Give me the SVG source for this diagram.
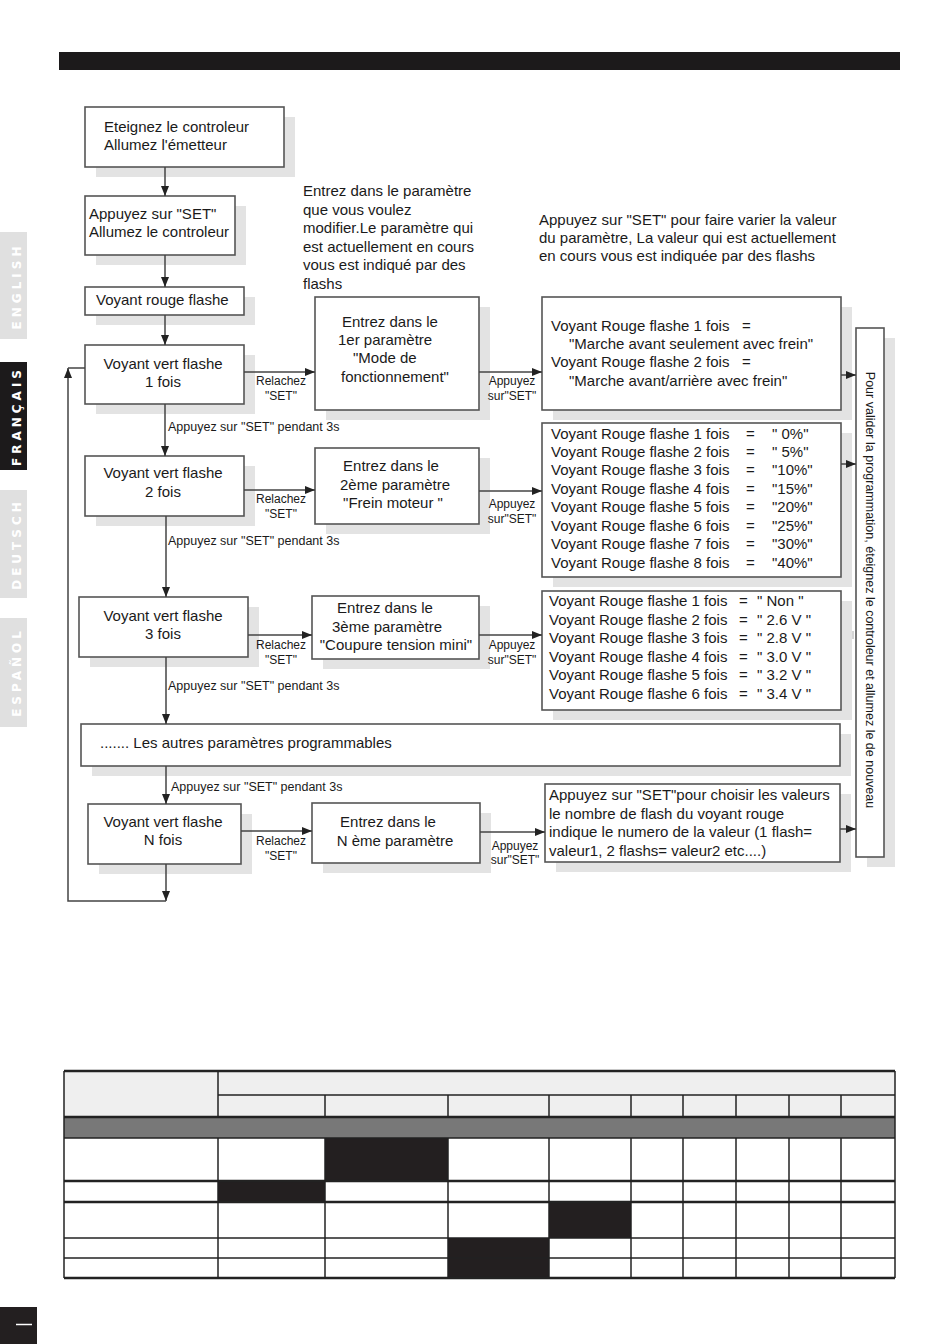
<svg xmlns="http://www.w3.org/2000/svg" width="950" height="1344" viewBox="0 0 950 1344">
<style>
.bx{fill:#fff;stroke:#555;stroke-width:1.6}
.sh{fill:#e3e3e3}
.t{font-family:"Liberation Sans",Arial,sans-serif;font-size:15px;fill:#1a1a1a}
.s{font-family:"Liberation Sans",Arial,sans-serif;font-size:12px;fill:#1a1a1a}
.p{font-family:"Liberation Sans",Arial,sans-serif;font-size:12.5px;fill:#1a1a1a}
.c{text-anchor:middle}
.ln{stroke:#444;stroke-width:1.5;fill:none}
.tab{font-family:"DejaVu Sans",sans-serif;font-weight:bold;font-size:12px;letter-spacing:4px;fill:#fff;text-anchor:middle}
.tl{stroke:#222;stroke-width:1.5}
.tk{stroke:#222;stroke-width:2.5}
</style>
<defs>
<marker id="ah" markerUnits="userSpaceOnUse" markerWidth="11" markerHeight="9" refX="10" refY="4" orient="auto">
<path d="M0,0 L10,4 L0,8 z" fill="#222"/>
</marker>
</defs>
<rect width="950" height="1344" fill="#fff"/>
<rect x="59" y="52" width="841" height="18" fill="#1c1a1b"/>
<g id="tabs">
<rect x="0" y="232" width="27" height="107" fill="#e0e0e0"/>
<text class="tab" transform="translate(21,286) rotate(-90)">ENGLISH</text>
<rect x="0" y="362" width="27" height="108" fill="#1c1a1b"/>
<text class="tab" transform="translate(21,416) rotate(-90)">FRANÇAIS</text>
<rect x="0" y="490" width="27" height="108" fill="#e0e0e0"/>
<text class="tab" transform="translate(21,544) rotate(-90)">DEUTSCH</text>
<rect x="0" y="618" width="27" height="109" fill="#e0e0e0"/>
<text class="tab" transform="translate(21,672) rotate(-90)">ESPAÑOL</text>
</g>
<g id="notes">
<text class="t" x="303" y="196">Entrez dans le paramètre</text>
<text class="t" x="303" y="215">que vous voulez</text>
<text class="t" x="303" y="233">modifier.Le paramètre qui</text>
<text class="t" x="303" y="252">est actuellement en cours</text>
<text class="t" x="303" y="270">vous est indiqué par des</text>
<text class="t" x="303" y="289">flashs</text>
<text class="t" x="539" y="225">Appuyez sur "SET" pour faire varier la valeur</text>
<text class="t" x="539" y="243">du paramètre, La valeur qui est actuellement</text>
<text class="t" x="539" y="261">en cours vous est indiquée par des flashs</text>
</g>
<g id="nA">
<rect class="sh" x="96" y="117" width="199" height="60"/>
<rect class="bx" x="85" y="107" width="199" height="60"/>
<text class="t" x="104" y="132">Eteignez le controleur</text>
<text class="t" x="104" y="150">Allumez l'émetteur</text>
</g>
<g id="nB">
<rect class="sh" x="96" y="206" width="150" height="59"/>
<rect class="bx" x="85" y="196" width="150" height="59"/>
<text class="t" x="89" y="219">Appuyez sur "SET"</text>
<text class="t" x="89" y="237">Allumez le controleur</text>
</g>
<g id="nC">
<rect class="sh" x="96" y="297" width="159" height="28"/>
<rect class="bx" x="85" y="287" width="159" height="28"/>
<text class="t" x="96" y="305">Voyant rouge flashe</text>
</g>
<g id="nD">
<rect class="sh" x="96" y="355" width="159" height="59"/>
<rect class="bx" x="85" y="345" width="159" height="59"/>
<text class="t c" x="163" y="369">Voyant vert flashe</text>
<text class="t c" x="163" y="387">1 fois</text>
</g>
<g id="nE">
<rect class="sh" x="326" y="307" width="164" height="113"/>
<rect class="bx" x="315" y="297" width="164" height="113"/>
<text class="t" x="342" y="327">Entrez dans le</text>
<text class="t" x="338" y="345">1er paramètre</text>
<text class="t" x="353" y="363">"Mode de</text>
<text class="t" x="341" y="382">fonctionnement"</text>
</g>
<g id="nF">
<rect class="sh" x="553" y="307" width="299" height="113"/>
<rect class="bx" x="542" y="297" width="299" height="113"/>
<text class="t" x="551" y="331">Voyant Rouge flashe 1 fois</text><text class="t" x="742" y="331">=</text>
<text class="t" x="569" y="349">"Marche avant seulement avec frein"</text>
<text class="t" x="551" y="367">Voyant Rouge flashe 2 fois</text><text class="t" x="742" y="367">=</text>
<text class="t" x="569" y="386">"Marche avant/arrière avec frein"</text>
</g>
<g id="nG">
<rect class="sh" x="867" y="338" width="28" height="529"/>
<rect class="bx" x="856" y="328" width="28" height="529"/>
<text class="p c" transform="translate(866,590) rotate(90)">Pour valider la programmation, éteignez le controleur et allumez le de nouveau</text>
</g>
<g id="nH">
<rect class="sh" x="96" y="466" width="159" height="60"/>
<rect class="bx" x="85" y="456" width="159" height="60"/>
<text class="t c" x="163" y="478">Voyant vert flashe</text>
<text class="t c" x="163" y="497">2 fois</text>
</g>
<g id="nI">
<rect class="sh" x="326" y="458" width="164" height="76"/>
<rect class="bx" x="315" y="448" width="164" height="76"/>
<text class="t c" x="391" y="471">Entrez dans le</text>
<text class="t c" x="395" y="490">2ème paramètre</text>
<text class="t c" x="393" y="508">"Frein moteur "</text>
</g>
<g id="nJ">
<rect class="sh" x="553" y="433" width="299" height="154"/>
<rect class="bx" x="542" y="423" width="299" height="154"/>
<text class="t" x="551" y="439">Voyant Rouge flashe 1 fois</text><text class="t" x="746" y="439">=</text><text class="t" x="772" y="439">" 0%"</text>
<text class="t" x="551" y="457">Voyant Rouge flashe 2 fois</text><text class="t" x="746" y="457">=</text><text class="t" x="772" y="457">" 5%"</text>
<text class="t" x="551" y="475">Voyant Rouge flashe 3 fois</text><text class="t" x="746" y="475">=</text><text class="t" x="772" y="475">"10%"</text>
<text class="t" x="551" y="494">Voyant Rouge flashe 4 fois</text><text class="t" x="746" y="494">=</text><text class="t" x="772" y="494">"15%"</text>
<text class="t" x="551" y="512">Voyant Rouge flashe 5 fois</text><text class="t" x="746" y="512">=</text><text class="t" x="772" y="512">"20%"</text>
<text class="t" x="551" y="531">Voyant Rouge flashe 6 fois</text><text class="t" x="746" y="531">=</text><text class="t" x="772" y="531">"25%"</text>
<text class="t" x="551" y="549">Voyant Rouge flashe 7 fois</text><text class="t" x="746" y="549">=</text><text class="t" x="772" y="549">"30%"</text>
<text class="t" x="551" y="568">Voyant Rouge flashe 8 fois</text><text class="t" x="746" y="568">=</text><text class="t" x="772" y="568">"40%"</text>
</g>
<g id="nK">
<rect class="sh" x="90" y="607" width="169" height="60"/>
<rect class="bx" x="79" y="597" width="169" height="60"/>
<text class="t c" x="163" y="621">Voyant vert flashe</text>
<text class="t c" x="163" y="639">3 fois</text>
</g>
<g id="nL">
<rect class="sh" x="323" y="606" width="167" height="63"/>
<rect class="bx" x="312" y="596" width="167" height="63"/>
<text class="t c" x="385" y="613">Entrez dans le</text>
<text class="t c" x="387" y="632">3ème paramètre</text>
<text class="t c" x="396" y="650">"Coupure tension mini"</text>
</g>
<g id="nM">
<rect class="sh" x="553" y="601" width="299" height="119"/>
<rect class="bx" x="542" y="591" width="299" height="119"/>
<text class="t" x="549" y="606">Voyant Rouge flashe 1 fois</text><text class="t" x="739" y="606">=</text><text class="t" x="757" y="606">" Non "</text>
<text class="t" x="549" y="625">Voyant Rouge flashe 2 fois</text><text class="t" x="739" y="625">=</text><text class="t" x="757" y="625">" 2.6 V "</text>
<text class="t" x="549" y="643">Voyant Rouge flashe 3 fois</text><text class="t" x="739" y="643">=</text><text class="t" x="757" y="643">" 2.8 V "</text>
<text class="t" x="549" y="662">Voyant Rouge flashe 4 fois</text><text class="t" x="739" y="662">=</text><text class="t" x="757" y="662">" 3.0 V "</text>
<text class="t" x="549" y="680">Voyant Rouge flashe 5 fois</text><text class="t" x="739" y="680">=</text><text class="t" x="757" y="680">" 3.2 V "</text>
<text class="t" x="549" y="699">Voyant Rouge flashe 6 fois</text><text class="t" x="739" y="699">=</text><text class="t" x="757" y="699">" 3.4 V "</text>
</g>
<g id="nN">
<rect class="sh" x="92" y="734" width="759" height="42"/>
<rect class="bx" x="81" y="724" width="759" height="42"/>
<text class="t" x="100" y="748">.......  Les autres paramètres programmables</text>
</g>
<g id="nO">
<rect class="sh" x="99" y="814" width="153" height="60"/>
<rect class="bx" x="88" y="804" width="153" height="60"/>
<text class="t c" x="163" y="827">Voyant vert flashe</text>
<text class="t c" x="163" y="845">N fois</text>
</g>
<g id="nP">
<rect class="sh" x="323" y="813" width="168" height="60"/>
<rect class="bx" x="312" y="803" width="168" height="60"/>
<text class="t c" x="388" y="827">Entrez dans le</text>
<text class="t c" x="395" y="846">N ème paramètre</text>
</g>
<g id="nQ">
<rect class="sh" x="556" y="794" width="295" height="78"/>
<rect class="bx" x="545" y="784" width="295" height="78"/>
<text class="t" x="549" y="800">Appuyez sur "SET"pour choisir les valeurs</text>
<text class="t" x="549" y="819">le nombre de flash du voyant rouge</text>
<text class="t" x="549" y="837">indique le numero de la valeur (1 flash=</text>
<text class="t" x="549" y="856">valeur1, 2 flashs= valeur2 etc....)</text>
</g>
<g id="connectors">
<line class="ln" x1="165" y1="167" x2="165" y2="196" marker-end="url(#ah)"/>
<line class="ln" x1="165" y1="255" x2="165" y2="287" marker-end="url(#ah)"/>
<line class="ln" x1="165" y1="315" x2="165" y2="345" marker-end="url(#ah)"/>
<line class="ln" x1="244" y1="372" x2="315" y2="372" marker-end="url(#ah)"/>
<line class="ln" x1="479" y1="372" x2="542" y2="372" marker-end="url(#ah)"/>
<line class="ln" x1="841" y1="375" x2="856" y2="375" marker-end="url(#ah)"/>
<line class="ln" x1="165" y1="404" x2="165" y2="456" marker-end="url(#ah)"/>
<line class="ln" x1="244" y1="490" x2="315" y2="490" marker-end="url(#ah)"/>
<line class="ln" x1="479" y1="491" x2="542" y2="491" marker-end="url(#ah)"/>
<line class="ln" x1="841" y1="464" x2="856" y2="464" marker-end="url(#ah)"/>
<line class="ln" x1="166" y1="516" x2="166" y2="597" marker-end="url(#ah)"/>
<line class="ln" x1="248" y1="635" x2="312" y2="635" marker-end="url(#ah)"/>
<line class="ln" x1="479" y1="635" x2="542" y2="635" marker-end="url(#ah)"/>
<line x1="853" y1="631" x2="853" y2="639" stroke="#aaa" stroke-width="1"/>
<line class="ln" x1="166" y1="657" x2="166" y2="724" marker-end="url(#ah)"/>
<line class="ln" x1="166" y1="766" x2="166" y2="804" marker-end="url(#ah)"/>
<line class="ln" x1="241" y1="831" x2="312" y2="831" marker-end="url(#ah)"/>
<line class="ln" x1="480" y1="832" x2="545" y2="832" marker-end="url(#ah)"/>
<line class="ln" x1="840" y1="829" x2="856" y2="829" marker-end="url(#ah)"/>
<line class="ln" x1="166" y1="864" x2="166" y2="901" marker-end="url(#ah)"/>
<polyline class="ln" points="166,901 68,901 68,368" marker-end="url(#ah)"/>
<line class="ln" x1="68" y1="368" x2="85" y2="368"/>
<text class="s c" x="281" y="385">Relachez</text><text class="s c" x="281" y="400">"SET"</text>
<text class="s c" x="512" y="385">Appuyez</text><text class="s c" x="512" y="400">sur"SET"</text>
<text class="p" x="168" y="431">Appuyez sur "SET" pendant 3s</text>
<text class="s c" x="281" y="503">Relachez</text><text class="s c" x="281" y="518">"SET"</text>
<text class="s c" x="512" y="508">Appuyez</text><text class="s c" x="512" y="523">sur"SET"</text>
<text class="p" x="168" y="545">Appuyez sur "SET" pendant 3s</text>
<text class="s c" x="281" y="649">Relachez</text><text class="s c" x="281" y="664">"SET"</text>
<text class="s c" x="512" y="649">Appuyez</text><text class="s c" x="512" y="664">sur"SET"</text>
<text class="p" x="168" y="690">Appuyez sur "SET" pendant 3s</text>
<text class="p" x="171" y="791">Appuyez sur "SET" pendant 3s</text>
<text class="s c" x="281" y="845">Relachez</text><text class="s c" x="281" y="860">"SET"</text>
<text class="s c" x="515" y="850">Appuyez</text><text class="s c" x="515" y="864">sur"SET"</text>
</g>
<g id="table">
<rect x="64" y="1071" width="831" height="46" fill="#efefef"/>
<rect x="64" y="1118" width="831" height="20" fill="#787878"/>
<rect x="325" y="1138" width="123" height="43" fill="#231f20"/>
<rect x="218" y="1181" width="107" height="21" fill="#231f20"/>
<rect x="549" y="1202" width="82" height="36" fill="#231f20"/>
<rect x="448" y="1238" width="101" height="40" fill="#231f20"/>
<line class="tk" x1="64" y1="1071" x2="895" y2="1071"/>
<line class="tl" x1="218" y1="1095" x2="895" y2="1095"/>
<line class="tk" x1="64" y1="1117" x2="895" y2="1117"/>
<line class="tl" x1="64" y1="1138" x2="895" y2="1138"/>
<line class="tk" x1="64" y1="1181" x2="895" y2="1181"/>
<line class="tk" x1="64" y1="1202" x2="895" y2="1202"/>
<line class="tl" x1="64" y1="1238" x2="895" y2="1238"/>
<line class="tl" x1="64" y1="1258" x2="895" y2="1258"/>
<line class="tk" x1="64" y1="1278" x2="895" y2="1278"/>
<line class="tl" x1="64" y1="1071" x2="64" y2="1278"/>
<line class="tl" x1="895" y1="1071" x2="895" y2="1278"/>
<line class="tl" x1="218" y1="1071" x2="218" y2="1117"/>
<line class="tl" x1="218" y1="1138" x2="218" y2="1278"/>
<g class="tl">
<line x1="325" y1="1095" x2="325" y2="1117"/><line x1="448" y1="1095" x2="448" y2="1117"/><line x1="549" y1="1095" x2="549" y2="1117"/><line x1="631" y1="1095" x2="631" y2="1117"/><line x1="683" y1="1095" x2="683" y2="1117"/><line x1="736" y1="1095" x2="736" y2="1117"/><line x1="789" y1="1095" x2="789" y2="1117"/><line x1="841" y1="1095" x2="841" y2="1117"/>
<line x1="325" y1="1138" x2="325" y2="1278"/><line x1="448" y1="1138" x2="448" y2="1278"/><line x1="549" y1="1138" x2="549" y2="1278"/><line x1="631" y1="1138" x2="631" y2="1278"/><line x1="683" y1="1138" x2="683" y2="1278"/><line x1="736" y1="1138" x2="736" y2="1278"/><line x1="789" y1="1138" x2="789" y2="1278"/><line x1="841" y1="1138" x2="841" y2="1278"/>
</g>
</g>
<rect x="0" y="1307" width="37" height="37" fill="#231f20"/>
<line x1="16" y1="1324.5" x2="32" y2="1324.5" stroke="#fff" stroke-width="1.5"/>
</svg>
